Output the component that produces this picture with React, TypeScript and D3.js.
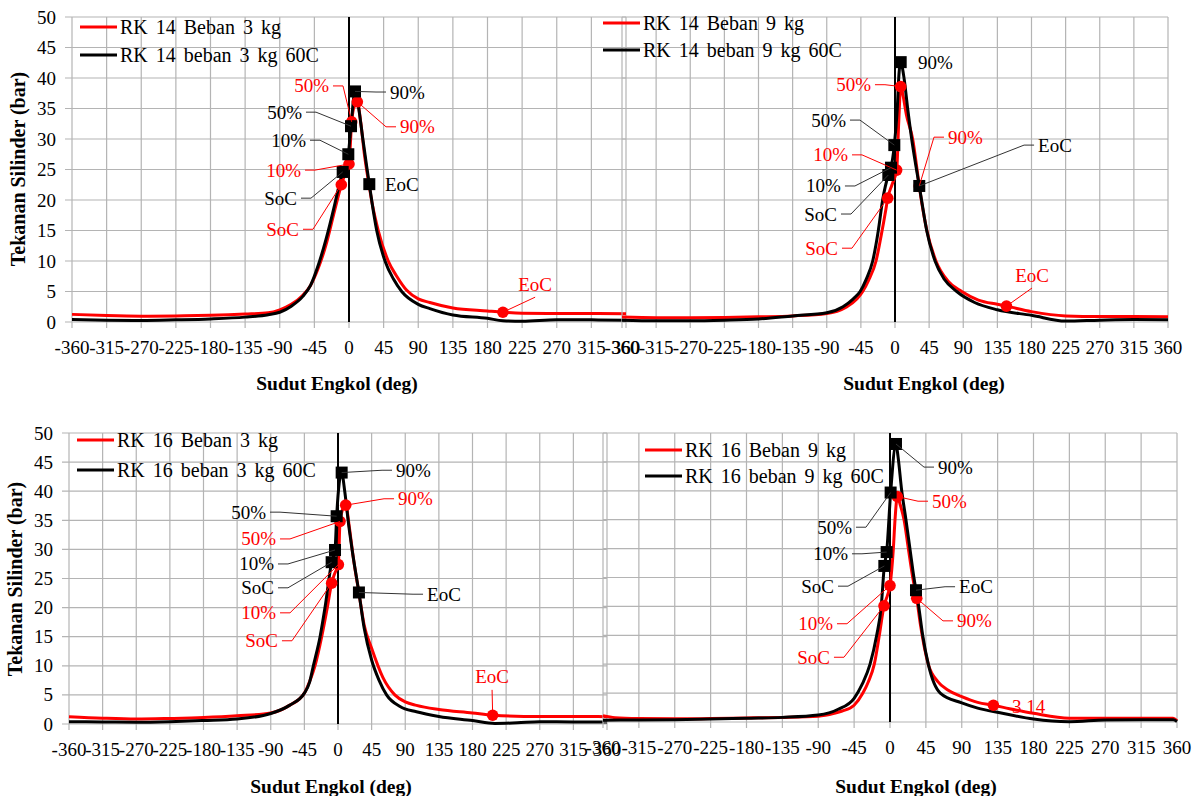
import React from 'react';
import * as d3 from 'd3';

type Pt = [number, number];

const xTickValues = [-360, -315, -270, -225, -180, -135, -90, -45, 0, 45, 90, 135, 180, 225, 270, 315, 360];
const yTickValues = [0, 5, 10, 15, 20, 25, 30, 35, 40, 45, 50];

// RK 14, 3 kg
const rk14Beban3: Pt[] = [[-360,1.25],[-315,1.05],[-270,0.95],[-225,1.0],[-180,1.1],[-135,1.3],[-105,1.5],[-90,2.0],[-75,2.9],[-60,4.4],[-50,6.0],[-40,8.8],[-30,12.6],[-20,17.6],[-14,20.6],[-10,22.5],[-4,24.6],[0,25.9],[3.5,32.8],[7,35.5],[10.8,36.1],[15,33],[20,27.5],[26,22.5],[30,19.5],[38,15],[51,10],[62,7.5],[75,5.2],[90,3.8],[105,3.2],[135,2.3],[180,1.8],[200,1.6],[225,1.45],[270,1.4],[315,1.4],[360,1.35]];
const rk14Beban3_60C: Pt[] = [[-360,0.4],[-315,0.3],[-270,0.25],[-225,0.35],[-180,0.5],[-135,0.8],[-105,1.2],[-90,1.6],[-75,2.6],[-60,4.2],[-50,6.0],[-40,9.3],[-30,13.5],[-20,18.5],[-14,21.8],[-8.2,24.6],[-0.9,27.5],[2.6,32.1],[7.8,37.8],[12,35.5],[18,30],[23,25.5],[26.4,22.6],[30,19.5],[36,15],[46.8,10],[58,7],[68.5,5],[90,2.9],[105,2.2],[135,1.15],[180,0.6],[200,0.2],[225,0.12],[270,0.35],[315,0.35],[360,0.3]];

// RK 14, 9 kg
const rk14Beban9: Pt[] = [[-360,0.8],[-315,0.7],[-270,0.7],[-225,0.75],[-180,0.85],[-135,1.0],[-90,1.4],[-65,2.4],[-50,3.8],[-42.6,5],[-35,6.8],[-25,10],[-18.5,14],[-12,18.5],[-9.6,20.3],[-4,22.5],[2.2,24.9],[5,33],[7.5,38.6],[10,37.5],[15,34],[23.3,30],[32,22.3],[36,19],[42,15],[54,10],[70,6.7],[88,5],[110,3.6],[135,2.9],[147,2.6],[180,1.7],[225,1.0],[270,0.9],[315,0.9],[360,0.85]];
const rk14Beban9_60C: Pt[] = [[-360,0.3],[-315,0.2],[-270,0.2],[-225,0.3],[-180,0.5],[-135,1.0],[-90,1.5],[-68.6,2.5],[-55,3.8],[-46,5],[-38,7],[-29.4,10],[-22,15],[-16.3,20],[-8.8,24.1],[-5.3,25.3],[-0.9,29],[3,35],[4.9,40],[7.5,42.6],[11.9,40],[16.7,35],[22,30],[27,26],[32,22.3],[35,20],[41.8,15],[52.8,10],[65,7],[81.4,5],[105,3.2],[135,2.0],[180,1.1],[225,0.15],[270,0.3],[315,0.4],[360,0.35]];

// RK 16, 3 kg
const rk16Beban3: Pt[] = [[-360,1.25],[-315,1.0],[-270,0.86],[-225,0.95],[-180,1.1],[-135,1.4],[-90,1.9],[-65,3.2],[-45,5.3],[-38,7.3],[-30.8,10],[-21.8,15],[-14.3,20],[-8.5,24.2],[-4,26],[0.5,27.4],[2.7,34.8],[6,36.8],[10.3,37.6],[15,34],[20,29],[28,22.5],[35,17],[45,13],[60,8],[76,5],[90,3.8],[105,3.2],[135,2.5],[180,1.9],[207,1.5],[270,1.3],[315,1.3],[360,1.25]];
const rk16Beban3_60C: Pt[] = [[-360,0.4],[-315,0.35],[-270,0.3],[-225,0.4],[-180,0.6],[-135,0.86],[-90,1.8],[-65,3.2],[-45,5.3],[-38,7.2],[-33,10],[-24,15],[-17.4,20],[-8.5,27.8],[-4,29.9],[-1.8,35.7],[4.9,43.2],[9,40],[14,34.5],[20,29],[28,22.6],[35,16.5],[45,11],[55,7.5],[65,5],[83,3.0],[105,2.1],[135,1.3],[180,0.6],[210,0.1],[240,0.2],[270,0.4],[315,0.35],[360,0.35]];

// RK 16, 9 kg
const rk16Beban9: Pt[] = [[-360,1.1],[-345,0.75],[-315,0.6],[-270,0.55],[-225,0.6],[-180,0.7],[-135,0.8],[-90,1.0],[-70,1.5],[-60,1.9],[-45,2.9],[-34,5],[-27,7],[-19.7,10],[-13.4,15],[-7.5,20.1],[-3,22],[0,23.6],[4.2,30],[6.3,35],[9.2,39.0],[13,37.5],[17.6,35],[23,30],[28.5,25],[33.5,21.4],[38,17],[43,13],[48,10],[60,7],[73,5.5],[90,4.4],[110,3.4],[129.7,2.9],[150,2.3],[180,1.5],[225,0.65],[270,0.65],[315,0.65],[355,0.65],[360,0.25]];
const rk16Beban9_60C: Pt[] = [[-360,0.3],[-315,0.35],[-270,0.4],[-225,0.5],[-180,0.65],[-135,0.8],[-90,1.2],[-65,2.2],[-45,4.1],[-35,6.5],[-25,10],[-16.7,15],[-11,20],[-7.1,27.0],[-4.2,29.4],[0.8,39.7],[7.5,48.1],[10,46],[14.7,40],[20,35],[25,30],[30,25],[32.6,22.8],[36,20],[41,15],[48,10],[63,5],[90,3.3],[110,2.4],[138,1.6],[180,0.5],[225,0.05],[270,0.35],[315,0.4],[355,0.4],[360,0.1]];

type Ann = { text: string; c: 'r' | 'k'; a: number; v: number; la: number; lv: number; anchor: 'start' | 'end' | 'middle'; leader: boolean };

const rk14Beban3Notes: Ann[] = [
  { text: '50%', c: 'r', a: 3.5, v: 32.8, la: -20.8, lv: 38.7, anchor: 'end', leader: true },
  { text: '90%', c: 'r', a: 10.8, v: 36.1, la: 61.1, lv: 32.0, anchor: 'start', leader: true },
  { text: '10%', c: 'r', a: 0, v: 25.9, la: -57.2, lv: 24.9, anchor: 'end', leader: true },
  { text: 'SoC', c: 'r', a: -10, v: 22.5, la: -59.8, lv: 15.2, anchor: 'end', leader: true },
  { text: 'EoC', c: 'r', a: 200, v: 1.6, la: 241.9, lv: 6.2, anchor: 'middle', leader: true },
  { text: '90%', c: 'k', a: 7.8, v: 37.8, la: 48.1, lv: 37.7, anchor: 'start', leader: true },
  { text: '50%', c: 'k', a: 2.6, v: 32.1, la: -55.9, lv: 34.4, anchor: 'end', leader: true },
  { text: '10%', c: 'k', a: -0.9, v: 27.5, la: -50.7, lv: 29.8, anchor: 'end', leader: true },
  { text: 'SoC', c: 'k', a: -8.2, v: 24.6, la: -62.4, lv: 20.3, anchor: 'end', leader: true },
  { text: 'EoC', c: 'k', a: 26.4, v: 22.6, la: 41.6, lv: 22.6, anchor: 'start', leader: false },
];
const rk14Beban9Notes: Ann[] = [
  { text: '50%', c: 'r', a: 7.5, v: 38.6, la: -26.4, lv: 38.9, anchor: 'end', leader: true },
  { text: '10%', c: 'r', a: 2.2, v: 24.9, la: -56.7, lv: 27.4, anchor: 'end', leader: true },
  { text: 'SoC', c: 'r', a: -9.6, v: 20.3, la: -69.9, lv: 12.1, anchor: 'end', leader: true },
  { text: '90%', c: 'r', a: 32, v: 22.3, la: 64.6, lv: 30.3, anchor: 'start', leader: true },
  { text: 'EoC', c: 'r', a: 147, v: 2.6, la: 180.7, lv: 7.7, anchor: 'middle', leader: true },
  { text: '90%', c: 'k', a: 7.5, v: 42.6, la: 25.1, lv: 42.5, anchor: 'start', leader: false },
  { text: '50%', c: 'k', a: -0.9, v: 29.0, la: -59.4, lv: 33.1, anchor: 'end', leader: true },
  { text: '10%', c: 'k', a: -5.3, v: 25.3, la: -66.0, lv: 22.3, anchor: 'end', leader: true },
  { text: 'SoC', c: 'k', a: -8.8, v: 24.1, la: -71.2, lv: 17.7, anchor: 'end', leader: true },
  { text: 'EoC', c: 'k', a: 32, v: 22.3, la: 183.4, lv: 29.0, anchor: 'start', leader: true },
];
const rk16Beban3Notes: Ann[] = [
  { text: '90%', c: 'r', a: 10.3, v: 37.6, la: 75.0, lv: 38.7, anchor: 'start', leader: true },
  { text: '50%', c: 'r', a: 2.7, v: 34.8, la: -77.6, lv: 31.8, anchor: 'end', leader: true },
  { text: '10%', c: 'r', a: 0.5, v: 27.4, la: -77.6, lv: 19.1, anchor: 'end', leader: true },
  { text: 'SoC', c: 'r', a: -8.5, v: 24.2, la: -75.0, lv: 14.3, anchor: 'end', leader: true },
  { text: 'EoC', c: 'r', a: 207, v: 1.5, la: 206.2, lv: 8.1, anchor: 'middle', leader: true },
  { text: '90%', c: 'k', a: 4.9, v: 43.2, la: 72.3, lv: 43.6, anchor: 'start', leader: true },
  { text: '50%', c: 'k', a: -1.8, v: 35.7, la: -91.0, lv: 36.4, anchor: 'end', leader: true },
  { text: '10%', c: 'k', a: -4, v: 29.9, la: -80.3, lv: 27.5, anchor: 'end', leader: true },
  { text: 'SoC', c: 'k', a: -8.5, v: 27.8, la: -80.3, lv: 23.4, anchor: 'end', leader: true },
  { text: 'EoC', c: 'k', a: 28, v: 22.6, la: 113.8, lv: 22.3, anchor: 'start', leader: true },
];
const rk16Beban9Notes: Ann[] = [
  { text: '50%', c: 'r', a: 9.2, v: 39.0, la: 47.7, lv: 38.2, anchor: 'start', leader: true },
  { text: '10%', c: 'r', a: 0, v: 23.6, la: -66.5, lv: 17.0, anchor: 'end', leader: true },
  { text: 'SoC', c: 'r', a: -7.5, v: 20.1, la: -70.3, lv: 11.2, anchor: 'end', leader: true },
  { text: '90%', c: 'r', a: 33.5, v: 21.4, la: 79.0, lv: 17.5, anchor: 'start', leader: true },
  { text: '3.14', c: 'r', a: 129.7, v: 2.9, la: 148, lv: 2.6, anchor: 'start', leader: false },
  { text: '90%', c: 'k', a: 7.5, v: 48.1, la: 55.2, lv: 44.1, anchor: 'start', leader: true },
  { text: '50%', c: 'k', a: 0.8, v: 39.7, la: -42.7, lv: 33.7, anchor: 'end', leader: true },
  { text: '10%', c: 'k', a: -4.2, v: 29.4, la: -47.7, lv: 29.1, anchor: 'end', leader: true },
  { text: 'SoC', c: 'k', a: -7.1, v: 27.0, la: -65.2, lv: 23.5, anchor: 'end', leader: true },
  { text: 'EoC', c: 'k', a: 32.6, v: 22.8, la: 81.6, lv: 23.4, anchor: 'start', leader: true },
];

interface PanelCfg {
  id: string;
  left: number; right: number; top: number; bottom: number;
  red: Pt[]; black: Pt[]; notes: Ann[];
  legendRed: string; legendBlack: string;
  legX: number; legY: number; legGap: number;
  yLabels: boolean;
  titleX: number; titleY: number; yTitleX: number; yTitleY: number;
}

const panels: PanelCfg[] = [
  { id: 'p1', left: 72, right: 626, top: 17, bottom: 322, red: rk14Beban3, black: rk14Beban3_60C, notes: rk14Beban3Notes,
    legendRed: 'RK 14 Beban 3 kg', legendBlack: 'RK 14 beban 3 kg 60C', legX: 80, legY: 27, legGap: 28, yLabels: true,
    titleX: 337, titleY: 383, yTitleX: 18, yTitleY: 169 },
  { id: 'p3', left: 69, right: 607, top: 433, bottom: 724, red: rk16Beban3, black: rk16Beban3_60C, notes: rk16Beban3Notes,
    legendRed: 'RK 16 Beban 3 kg', legendBlack: 'RK 16 beban 3 kg 60C', legX: 77, legY: 440, legGap: 30, yLabels: true,
    titleX: 331, titleY: 786, yTitleX: 15, yTitleY: 579 },
  { id: 'p2', left: 622, right: 1168, top: 17, bottom: 322, red: rk14Beban9, black: rk14Beban9_60C, notes: rk14Beban9Notes,
    legendRed: 'RK 14 Beban 9 kg', legendBlack: 'RK 14 beban 9 kg 60C', legX: 603, legY: 23, legGap: 27, yLabels: false,
    titleX: 924, titleY: 383, yTitleX: 0, yTitleY: 0 },
  { id: 'p4', left: 603, right: 1177, top: 433, bottom: 722, red: rk16Beban9, black: rk16Beban9_60C, notes: rk16Beban9Notes,
    legendRed: 'RK 16 Beban 9 kg', legendBlack: 'RK 16 beban 9 kg 60C', legX: 645, legY: 450, legGap: 26, yLabels: false,
    titleX: 916, titleY: 786, yTitleX: 0, yTitleY: 0 },
];

const RED = '#ff0000';
const GRID = '#b4b4b4';
const FS = 19;
const FONT = '"Liberation Serif", "DejaVu Serif", "Times New Roman", serif';
const tStyle: React.CSSProperties = { fontFamily: FONT };

function Panel({ cfg }: { cfg: PanelCfg }) {
  const x = d3.scaleLinear().domain([-360, 360]).range([cfg.left, cfg.right]);
  const y = d3.scaleLinear().domain([0, 50]).range([cfg.bottom, cfg.top]);
  const line = d3.line<Pt>().x(d => x(d[0])).y(d => y(d[1])).curve(d3.curveMonotoneX);

  const noteEls = cfg.notes.map((n, i) => {
    const col = n.c === 'r' ? RED : '#000';
    const lcol = n.c === 'r' ? RED : '#333';
    const mx = x(n.a), my = y(n.v);
    const lx = x(n.la), ly = y(n.lv);
    let pts: [number, number][] = [];
    let tx = lx, ty = ly;
    if (n.anchor === 'end') { pts = [[mx, my], [lx + 10, ly], [lx, ly]]; tx = lx - 4; }
    else if (n.anchor === 'start') { pts = [[mx, my], [lx - 10, ly], [lx, ly]]; tx = lx + 4; }
    else { pts = [[mx, my], [lx, ly + 13]]; }
    return (
      <g key={i}>
        {n.leader && <path d={d3.line()(pts) || ''} fill="none" stroke={lcol} strokeWidth={1} />}
        <text x={tx} y={ty} textAnchor={n.anchor} dominantBaseline="central" fontSize={FS} fill={col} style={tStyle}>{n.text}</text>
      </g>
    );
  });

  return (
    <g>
      {yTickValues.map(t => (
        <line key={'gy' + t} x1={cfg.yLabels ? cfg.left - 7 : cfg.left} x2={cfg.right} y1={y(t)} y2={y(t)} stroke={GRID} strokeWidth={1.2} />
      ))}
      {xTickValues.map(t => (
        <line key={'gx' + t} x1={x(t)} x2={x(t)} y1={cfg.top} y2={cfg.bottom + 6} stroke={GRID} strokeWidth={1.2} />
      ))}
      {cfg.yLabels && yTickValues.map(t => (
        <text key={'yl' + t} x={cfg.left - 16} y={y(t)} textAnchor="end" dominantBaseline="central" fontSize={FS} fill="#000" style={tStyle}>{t}</text>
      ))}
      {xTickValues.map(t => (
        <text key={'xl' + t} x={x(t)} y={cfg.bottom + 25} textAnchor="middle" dominantBaseline="central" fontSize={FS} fill="#000" style={tStyle}>{t}</text>
      ))}
      <line x1={x(0)} x2={x(0)} y1={y(0)} y2={y(50)} stroke="#000" strokeWidth={2} />
      <path d={line(cfg.red) || ''} fill="none" stroke={RED} strokeWidth={3} />
      <path d={line(cfg.black) || ''} fill="none" stroke="#000" strokeWidth={3} />
      {cfg.notes.filter(n => n.c === 'r').map((n, i) => (
        <circle key={'rm' + i} cx={x(n.a)} cy={y(n.v)} r={5.8} fill={RED} />
      ))}
      {cfg.notes.filter(n => n.c === 'k').map((n, i) => (
        <rect key={'km' + i} x={x(n.a) - 6} y={y(n.v) - 6} width={12} height={12} fill="#000" />
      ))}
      {noteEls}
      <line x1={cfg.legX} x2={cfg.legX + 37} y1={cfg.legY} y2={cfg.legY} stroke={RED} strokeWidth={3} />
      <text x={cfg.legX + 40} y={cfg.legY} dominantBaseline="central" fontSize={20} fill="#000" wordSpacing={3} style={tStyle}>{cfg.legendRed}</text>
      <line x1={cfg.legX} x2={cfg.legX + 37} y1={cfg.legY + cfg.legGap} y2={cfg.legY + cfg.legGap} stroke="#000" strokeWidth={3} />
      <text x={cfg.legX + 40} y={cfg.legY + cfg.legGap} dominantBaseline="central" fontSize={20} fill="#000" wordSpacing={3} style={tStyle}>{cfg.legendBlack}</text>
      <text x={cfg.titleX} y={cfg.titleY} textAnchor="middle" dominantBaseline="central" fontSize={19.5} fontWeight="bold" fill="#000" style={tStyle}>Sudut Engkol (deg)</text>
      {cfg.yLabels && (
        <text transform={`translate(${cfg.yTitleX},${cfg.yTitleY}) rotate(-90)`} textAnchor="middle" dominantBaseline="central" fontSize={20} fontWeight="bold" fill="#000" style={tStyle}>Tekanan Silinder (bar)</text>
      )}
    </g>
  );
}

export default function App() {
  return (
    <svg width={1201} height={796} style={{ position: 'absolute', left: 0, top: 0, background: '#fff', fontFamily: FONT }}>
      <rect x={0} y={0} width={1201} height={796} fill="#fff" />
      {panels.map(p => <Panel key={p.id} cfg={p} />)}
    </svg>
  );
}
